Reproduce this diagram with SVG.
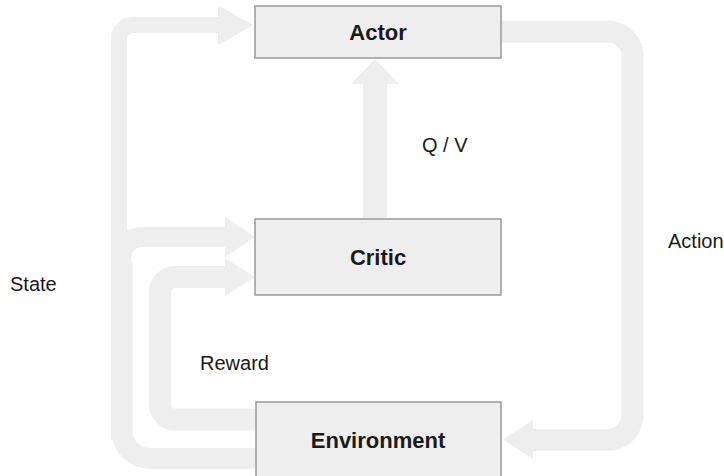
<svg xmlns="http://www.w3.org/2000/svg" width="724" height="476" viewBox="0 0 724 476">
<style>
.box{fill:#eeeeee;stroke:#999999;stroke-width:1.5}
.lnk{fill:none;stroke:#eeeeee}
.head{fill:#eeeeee}
.bt{font-family:"Liberation Sans",Arial,sans-serif;font-weight:bold;font-size:22px;fill:#1a1a1a;text-anchor:middle}
.lt{font-family:"Liberation Sans",Arial,sans-serif;font-size:20px;fill:#1a1a1a}
</style>
<rect width="724" height="476" fill="#ffffff"/>
<g id="connectors">
  <path class="lnk" stroke-width="16" d="M119 440 V39 A14 14 0 0 1 133 25 H220"/>
  <polygon class="head" points="218,5 253,25 218,45"/>
  <path class="lnk" stroke-width="21" d="M258 458.5 H150 A28 28 0 0 1 122 430.5 V262"/>
  <path class="lnk" stroke-width="20" d="M121 268 V257 A20 20 0 0 1 141 237 H227"/>
  <polygon class="head" points="225,217 255,237 225,257"/>
  <path class="lnk" stroke-width="22" d="M258 419.5 H175 A15 15 0 0 1 160 404.5 V292 A15 15 0 0 1 175 277 H227"/>
  <polygon class="head" points="225,258 255,277 225,296"/>
  <path class="lnk" stroke-width="22" d="M501 31.5 H607.5 A25 25 0 0 1 632.5 56.5 V415 A25 25 0 0 1 607.5 440 H531"/>
  <polygon class="head" points="533,420 503,439.5 533,459"/>
  <path class="lnk" stroke-width="24" d="M375 219 V82"/>
  <polygon class="head" points="351,84 375,59 399,84"/>
</g>
<g id="actor">
  <rect class="box" x="255" y="6" width="246" height="52"/>
  <text class="bt" x="378" y="40">Actor</text>
</g>
<g id="critic">
  <rect class="box" x="255" y="219" width="246" height="76"/>
  <text class="bt" x="378" y="265">Critic</text>
</g>
<g id="environment">
  <rect class="box" x="256" y="402" width="245" height="76"/>
  <text class="bt" x="378" y="448">Environment</text>
</g>
<g id="labels">
  <text class="lt" x="422" y="152" font-size="21">Q / V</text>
  <text class="lt" x="10" y="291">State</text>
  <text class="lt" x="668" y="248">Action</text>
  <text class="lt" x="200" y="370">Reward</text>
</g>
</svg>
